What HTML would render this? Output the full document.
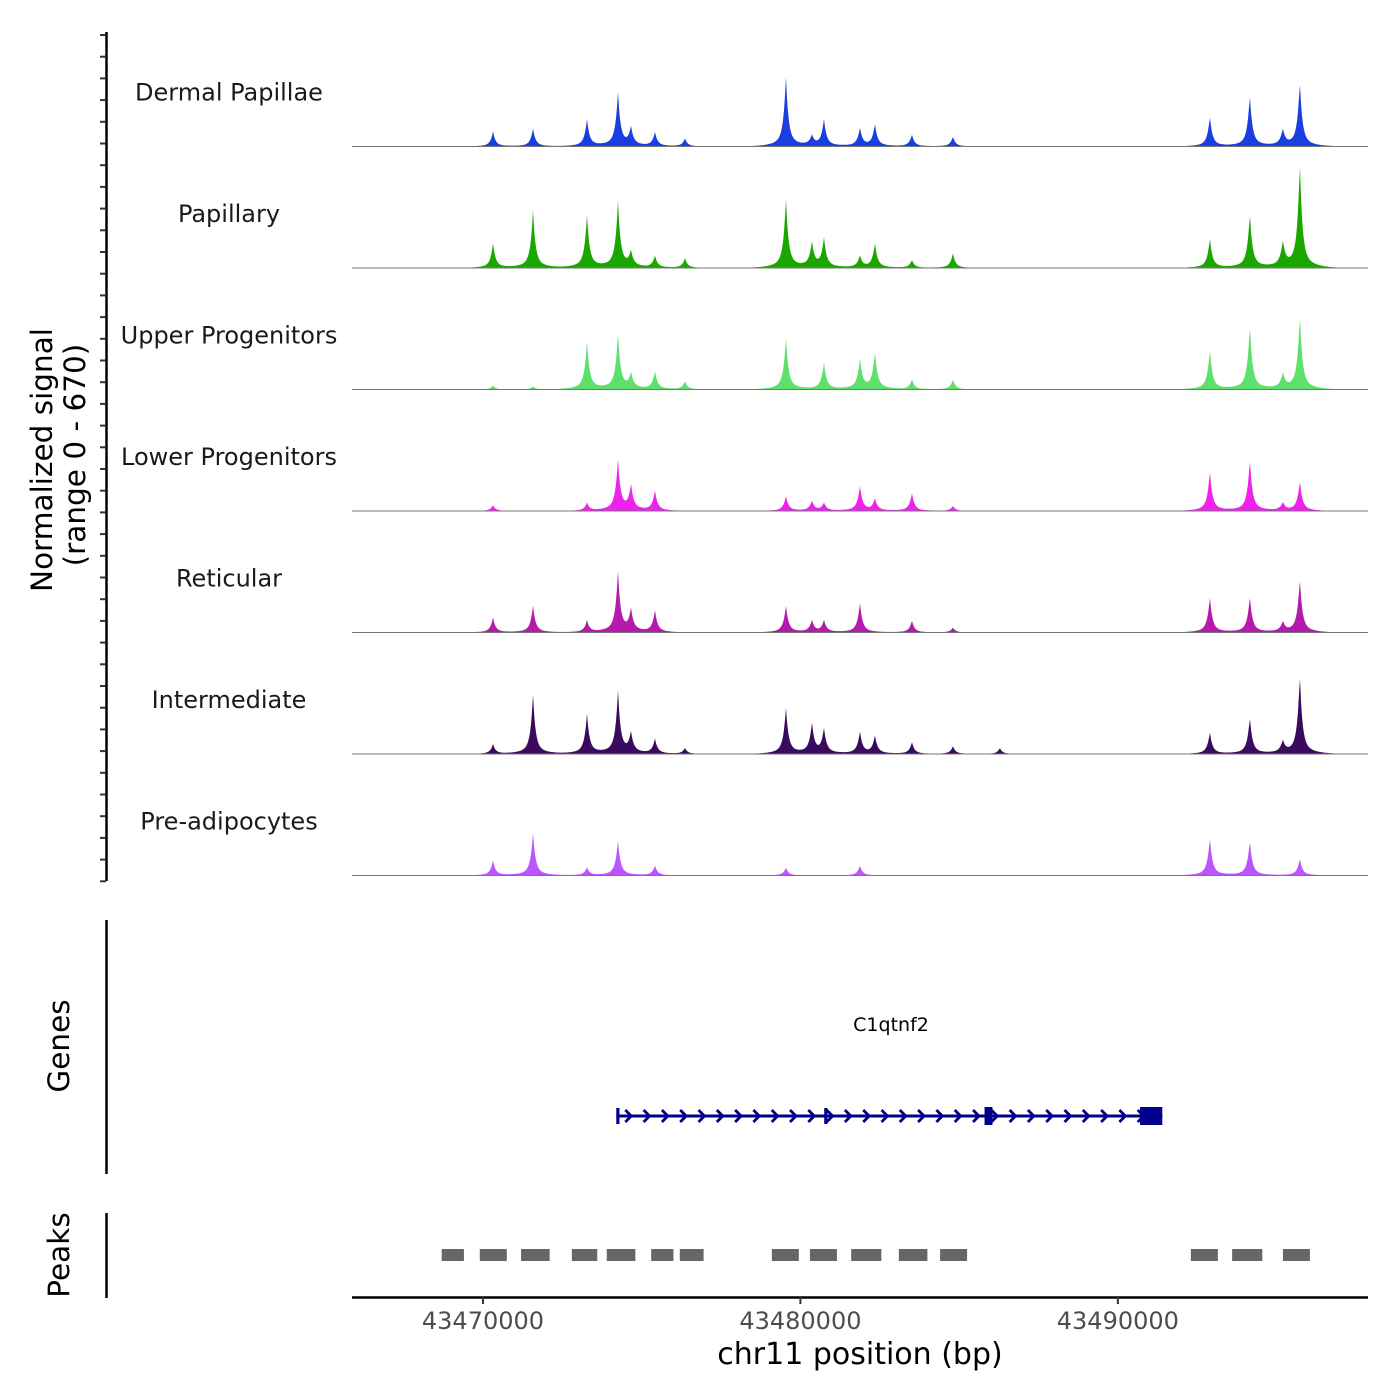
<!DOCTYPE html>
<html><head><meta charset="utf-8"><style>
body{margin:0;background:#fff}
svg{display:block;font-family:"DejaVu Sans","Liberation Sans",sans-serif}
</style></head><body>
<svg id="chart" width="1400" height="1400" viewBox="0 0 1400 1400">
<g id="tracks"></g>
<g id="leftaxis"></g>
<text transform="translate(52,460) rotate(-90)" text-anchor="middle" font-size="29.5" fill="#000">Normalized signal</text>
<text transform="translate(85,455) rotate(-90)" text-anchor="middle" font-size="29.5" fill="#000">(range 0 - 670)</text>
<line x1="106.5" y1="920" x2="106.5" y2="1174" stroke="#000" stroke-width="2.5"/>
<text transform="translate(69,1046) rotate(-90)" text-anchor="middle" font-size="29.5">Genes</text>
<g id="gene"></g>
<line x1="106.5" y1="1213" x2="106.5" y2="1298" stroke="#000" stroke-width="2.5"/>
<text transform="translate(69,1255) rotate(-90)" text-anchor="middle" font-size="29.5">Peaks</text>
<g id="peaks"></g>
<g id="xaxis"></g>
<text x="860" y="1364" text-anchor="middle" font-size="30">chr11 position (bp)</text>
</svg>
<script>
const xTicks=[43470000,43480000,43490000];
const peakPositions=[43470315,43471575,43473276,43474252,43474661,43475417,43476362,43479543,43480362,43480740,43481874,43482346,43483512,43484803,43486283,43492898,43494157,43495197,43495732];
const trackNames=["Dermal Papillae","Papillary","Upper Progenitors","Lower Progenitors","Reticular","Intermediate","Pre-adipocytes"];
const trackColors=["#1a3fe0","#1aa800","#5ee06c","#ee22ee","#b51aad","#3a0a5e","#bb55ff"];
const dermalValues=[83,100,150,300,100,78,44,393,55,150,100,122,66,55,0,166,288,89,360];
const papillaryValues=[138,321,293,371,83,66,55,388,138,166,66,138,44,83,0,166,305,138,592];
const upperValues=[22,17,266,305,83,100,44,290,0,150,166,205,55,55,0,222,360,83,415];
const lowerValues=[33,0,44,283,138,111,0,83,55,44,138,66,100,28,0,222,288,44,166];
const reticularValues=[83,150,66,338,122,122,0,150,66,66,166,0,66,28,0,200,200,55,300];
const intermediateValues=[55,332,222,349,111,83,33,260,166,138,122,100,66,44,33,122,205,66,443];
const preValues=[83,238,44,194,0,55,0,44,0,0,55,0,0,0,0,210,194,0,94];
const seriesValues=[dermalValues,papillaryValues,upperValues,lowerValues,reticularValues,intermediateValues,preValues];
const peakStarts=[43468700,43469900,43471200,43472800,43473900,43475300,43476200,43479100,43480300,43481600,43483100,43484400,43492300,43493600,43495200];
const peakEnds=[43469400,43470750,43472100,43473600,43474800,43476000,43476950,43479950,43481150,43482550,43484000,43485250,43493150,43494550,43496050];
const geneStart=43474200, geneEnd=43491400;
const exonStarts=[43474200,43480750,43485800,43490700];
const exonEnds=[43474300,43480850,43486050,43491400];
const yMax=670;

const NS="http://www.w3.org/2000/svg";
const X0=352,X1=1368,D0=43465874,D1=43497880;
function xs(v){return X0+(v-D0)/(D1-D0)*(X1-X0);}
const TH=121.5, base0=146.5;
function ys(v,i){return base0+i*TH - v/yMax*TH;}
function mk(tag,attrs,parent){const e=document.createElementNS(NS,tag);for(const k in attrs)e.setAttribute(k,attrs[k]);parent.appendChild(e);return e;}

const tracks=document.getElementById('tracks');
seriesValues.forEach((vals,i)=>{
  const g=mk('g',{},tracks);
  
  
  const lab=mk('text',{x:229,y:base0+i*TH-46,'text-anchor':'middle','font-size':24,fill:'#1a1a1a'},g);
  lab.textContent=trackNames[i];
  
  
  let d='M'+X0+','+ys(0,i);
  for(let px=X0;px<=X1;px+=1){
    const bp=D0+(px-X0)/(X1-X0)*(D1-D0);
    let v=0;
    peakPositions.forEach((p,j)=>{const h=vals[j];if(!h)return;const dd=Math.abs(bp-p);v+=0.85*h*Math.exp(-dd/75)+0.15*h*Math.exp(-dd/350);});
    d+=' L'+px+','+ys(Math.min(v,yMax),i).toFixed(2);
  }
  d+=' L'+X1+','+ys(0,i)+' Z';
  const path=mk('path',{d:d,fill:trackColors[i]},g);
  
  
  const bl=mk('line',{x1:X0,x2:X1,y1:ys(0,i),y2:ys(0,i),stroke:'#777','stroke-width':1},g);
  
  
});

const la=document.getElementById('leftaxis');
mk('line',{x1:106.5,x2:106.5,y1:32,y2:881,stroke:'#000','stroke-width':2.5},la);
for(let k=0;k<40;k++){const y=35+k*21.7;mk('line',{x1:100,x2:106,y1:y,y2:y,stroke:'#333','stroke-width':2},la);}

const gg=document.getElementById('gene');
const gy=1116;
mk('line',{x1:xs(geneStart),x2:xs(geneEnd),y1:gy,y2:gy,stroke:'#00008b','stroke-width':3},gg);
for(let x=xs(geneStart)+12;x<xs(geneEnd)-8;x+=18.3){
  mk('path',{d:`M${x-3},${gy-6} L${x+3},${gy} L${x-3},${gy+6}`,stroke:'#00008b','stroke-width':2.8,fill:'none'},gg);
}
exonStarts.forEach((s,j)=>{
  const w=Math.max(3,xs(exonEnds[j])-xs(s));
  const h=j==0||j==1?16:18;
  const r=mk('rect',{x:xs(s),y:gy-h/2,width:w,height:h,fill:'#00008b'},gg);
  
  
});
const gl=mk('text',{x:891,y:1031,'text-anchor':'middle','font-size':19,fill:'#000'},gg);
gl.textContent='C1qtnf2';



const pk=document.getElementById('peaks');
peakStarts.forEach((s,j)=>{
  const r=mk('rect',{x:xs(s),y:1249,width:xs(peakEnds[j])-xs(s),height:12,fill:'#666'},pk);
  
  
});

const xa=document.getElementById('xaxis');
mk('line',{x1:X0,x2:X1,y1:1297.5,y2:1297.5,stroke:'#000','stroke-width':2.5},xa);
xTicks.forEach(t=>{
  mk('line',{x1:xs(t),x2:xs(t),y1:1297,y2:1304,stroke:'#333','stroke-width':2},xa);
  const tx=mk('text',{x:xs(t),y:1329,'text-anchor':'middle','font-size':24,fill:'#4d4d4d'},xa);
  tx.textContent=t;
  
  
});
</script>
</body></html>
